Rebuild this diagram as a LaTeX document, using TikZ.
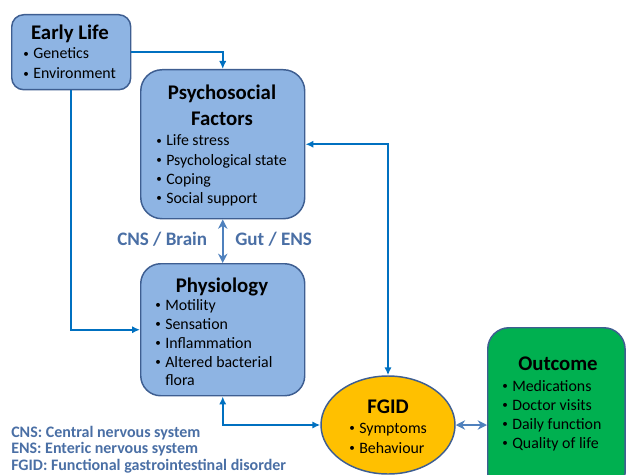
\documentclass[tikz,border=0pt]{standalone}
\usepackage{fontspec}
\setmainfont{Carlito}
\usetikzlibrary{arrows.meta,shapes.geometric}
\definecolor{boxblue}{RGB}{142,180,227}
\definecolor{edgeblue}{RGB}{62,94,145}
\definecolor{linkblue}{RGB}{0,112,192}
\definecolor{steel}{RGB}{79,129,189}
\definecolor{labblue}{RGB}{74,111,165}
\definecolor{fgidorange}{RGB}{255,192,0}
\definecolor{outgreen}{RGB}{0,176,80}
\newcommand\mybul{\makebox[7.5pt][l]{\raisebox{0.9pt}{\scalebox{0.7}{\textbullet}}}}
\newcommand\bitem[4]{\node[item] (#1) at (#2,#3) {\mybul#4};}
\begin{document}
\begin{tikzpicture}[x=0.75pt,y=-0.75pt,
  boxnode/.style={draw=edgeblue, line width=1.1pt, fill=boxblue, inner sep=0pt, anchor=north west},
  title/.style={font=\fontsize{15.6}{17}\selectfont\bfseries, anchor=base, inner sep=0pt},
  item/.style={font=\fontsize{11.9}{13}\selectfont, anchor=base west, inner sep=0pt},
  link/.style={draw=linkblue, line width=1.6pt, -{Latex[length=6pt,width=5.5pt]}},
  dlink/.style={draw=linkblue, line width=1.6pt, {Latex[length=6pt,width=5.5pt]}-{Latex[length=6pt,width=5.5pt]}},
  slink/.style={draw=steel, line width=1.7pt, {Stealth[length=7pt,width=7pt]}-{Stealth[length=7pt,width=7pt]}},
  lab/.style={font=\fontsize{14.3}{15}\selectfont\bfseries, text=labblue, anchor=base west, inner sep=0pt},
  legend/.style={font=\fontsize{12}{13}\selectfont\bfseries, text=labblue, anchor=base west, inner sep=0pt}
]
\useasboundingbox (0,0) rectangle (627,474);
\clip (0,0) rectangle (627,474);

% boxes
\node[boxnode, rounded corners=9pt, minimum width=89.25pt, minimum height=56.25pt] (el) at (11,14) {};
\node[boxnode, rounded corners=16pt, minimum width=123pt, minimum height=111.75pt] (ps) at (140,69) {};
\node[boxnode, rounded corners=15pt, minimum width=123pt, minimum height=99pt] (ph) at (140,263) {};
\node[boxnode, fill=outgreen, rounded corners=16pt, minimum width=103pt, minimum height=125pt] (oc) at (487,327) {};
\node[ellipse, draw=edgeblue, line width=1.1pt, fill=fgidorange, inner sep=0pt, minimum width=100.5pt, minimum height=73.5pt] (fg) at (388,425) {};

% Early life
\node[title] (elt) at (70,40) {Early Life};
\bitem{el1}{23}{59}{Genetics}
\bitem{el2}{23}{79}{Environment}

% Psychosocial
\node[title] (pst1) at (222,100) {Psychosocial};
\node[title] (pst2) at (222,126) {Factors};
\bitem{ps1}{156}{146}{Life stress}
\bitem{ps2}{156}{165}{Psychological state}
\bitem{ps3}{156}{184}{Coping}
\bitem{ps4}{156}{203}{Social support}

% Physiology
\node[title] (pht) at (222,292) {Physiology};
\bitem{ph1}{155}{310}{Motility}
\bitem{ph2}{155}{329}{Sensation}
\bitem{ph3}{155}{348}{Inflammation}
\bitem{ph4}{155}{367}{Altered bacterial}
\node[item] (ph5) at (165,385) {flora};

% FGID
\node[title] (fgt) at (388,413) {FGID};
\bitem{fg1}{349}{433}{Symptoms}
\bitem{fg2}{349}{453}{Behaviour}

% Outcome
\node[title] (oct) at (558,370) {Outcome};
\bitem{oc1}{502}{391}{Medications}
\bitem{oc2}{502}{410}{Doctor visits}
\bitem{oc3}{502}{429}{Daily function}
\bitem{oc4}{502}{448}{Quality of life}

% labels
\node[lab] (cns) at (117,245) {CNS / Brain};
\node[lab] (gut) at (235,245) {Gut / ENS};

% legend
\node[legend] (lg1) at (11,437) {CNS: Central nervous system};
\node[legend] (lg2) at (11,453.5) {ENS: Enteric nervous system};
\node[legend] (lg3) at (11,470) {FGID: Functional gastrointestinal disorder};

% connectors
\draw[link] (el.east) -| (ps.north);
\draw[link] (el.south) |- (ph.west);
\draw[slink] (ps.south) -- (ph.north);
\draw[dlink] (ps.east) -| (fg.north);
\draw[dlink] (ph.south) |- (fg.west);
\draw[slink] (fg.east) -- (fg.east -| oc.west);
\end{tikzpicture}
\end{document}
